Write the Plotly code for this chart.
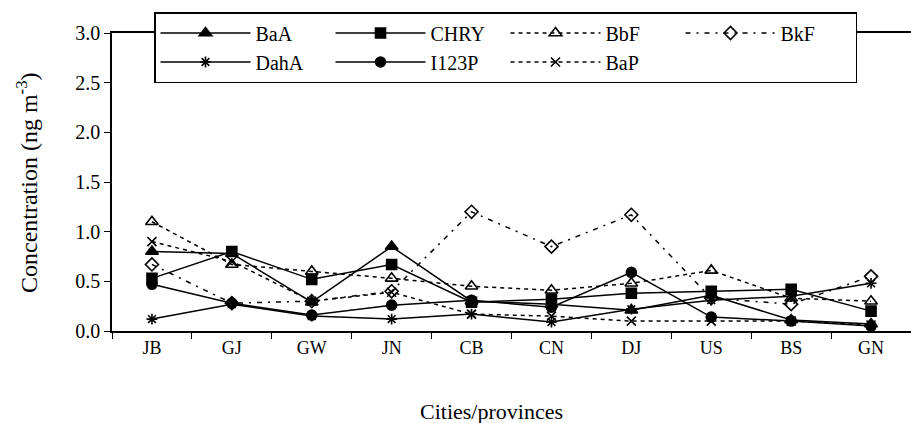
import plotly.graph_objects as go

cities = ["JB", "GJ", "GW", "JN", "CB", "CN", "DJ", "US", "BS", "GN"]
BaA = [0.80, 0.78, 0.29, 0.85, 0.30, 0.27, 0.21, 0.36, 0.11, 0.07]
CHRY = [0.53, 0.80, 0.52, 0.67, 0.29, 0.32, 0.38, 0.40, 0.42, 0.20]
BbF = [1.10, 0.67, 0.60, 0.53, 0.45, 0.41, 0.48, 0.61, 0.33, 0.30]
BkF = [0.67, 0.28, 0.30, 0.40, 1.20, 0.85, 1.17, 0.33, 0.27, 0.55]
DahA = [0.12, 0.27, 0.15, 0.12, 0.17, 0.09, 0.22, 0.31, 0.35, 0.48]
I123P = [0.47, 0.28, 0.16, 0.26, 0.31, 0.24, 0.59, 0.14, 0.10, 0.05]
BaP = [0.90, 0.70, 0.30, 0.39, 0.17, 0.15, 0.10, 0.10, 0.10, 0.06]

series = [
    ("BaA", BaA, "solid", "triangle-up"),
    ("CHRY", CHRY, "solid", "square"),
    ("BbF", BbF, "4px,4px", "triangle-up-open"),
    ("BkF", BkF, "5px,6px,2px,6px", "diamond-open"),
    ("DahA", DahA, "solid", "asterisk-open"),
    ("I123P", I123P, "solid", "circle"),
    ("BaP", BaP, "4px,4px", "x-thin-open"),
]

FONT = "Times New Roman"

fig = go.Figure()
for name, vals, dash, sym in series:
    size = 11 if "triangle" in sym else 10
    if sym.startswith("x") or sym.startswith("asterisk"):
        size = 9
    fig.add_trace(go.Scatter(
        x=cities, y=vals, name=name, mode="lines+markers",
        line=dict(color="black", width=1.5, dash=dash),
        marker=dict(symbol=sym, size=size, color="black",
                    line=dict(color="black", width=1.6)),
    ))

L, T, R, B = 112, 33, 0, 92
W, H = 911, 423
pw = W - L - R
ph = H - T - B

fig.update_layout(
    width=W, height=H,
    margin=dict(l=L, r=R, t=T, b=B),
    paper_bgcolor="white", plot_bgcolor="white",
    font=dict(family=FONT, size=17, color="black"),
    showlegend=True,
    legend=dict(
        orientation="h",
        x=(154 - L) / pw, y=1 + (T - 12) / ph,
        xanchor="left", yanchor="top",
        entrywidth=70, entrywidthmode="pixels",
        bordercolor="black", borderwidth=1.5, bgcolor="white",
        font=dict(family=FONT, size=20),
        itemwidth=90,
        tracegroupgap=0,
    ),
    xaxis=dict(
        type="category", range=[-0.5, 9.5],
        showline=True, linecolor="black", linewidth=1.5, mirror=True,
        ticks="outside", ticklen=6, tickwidth=1, tickcolor="black",
        tickson="boundaries", showgrid=False, zeroline=False,
        tickfont=dict(family=FONT, size=18),
    ),
    yaxis=dict(
        range=[0, 3.0], tickvals=[0, 0.5, 1.0, 1.5, 2.0, 2.5, 3.0],
        ticktext=["0.0", "0.5", "1.0", "1.5", "2.0", "2.5", "3.0"],
        showline=True, linecolor="black", linewidth=1.5,
        ticks="outside", ticklen=6, tickwidth=1, tickcolor="black",
        showgrid=False, zeroline=False,
        tickfont=dict(family=FONT, size=20),
    ),
    annotations=[
        dict(
            text="Cities/provinces", xref="paper", yref="paper",
            x=(491 - L) / pw, y=-(411 - (T + ph)) / ph,
            xanchor="center", yanchor="middle", showarrow=False,
            font=dict(family=FONT, size=22),
        ),
        dict(
            text="Concentration (ng m<sup>-3</sup>)", xref="paper", yref="paper",
            x=(27 - L) / pw, y=(T + ph - 183) / ph, textangle=-90,
            xanchor="center", yanchor="middle", showarrow=False,
            font=dict(family=FONT, size=24),
        ),
    ],
)

fig.write_html("out.html", config={"displayModeBar": False},
               post_script="document.body.style.margin='0';document.body.style.overflow='hidden';")
